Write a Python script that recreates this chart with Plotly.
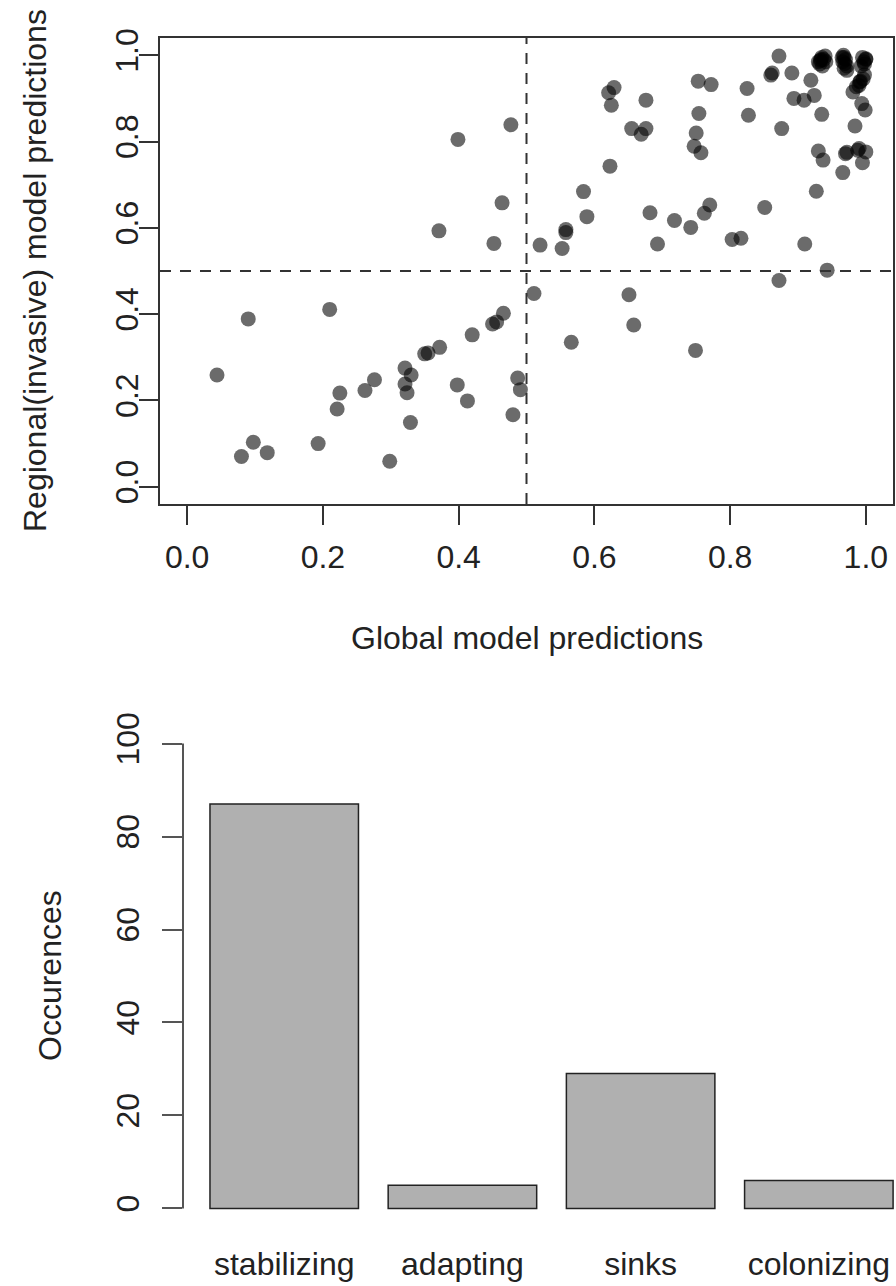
import plotly.graph_objects as go

# ---------------- data ----------------
global_pred = [
    # sinks (lower left)
    0.044, 0.090, 0.080, 0.0975, 0.118, 0.193, 0.210, 0.221, 0.225, 0.262,
    0.276, 0.2985, 0.321, 0.330, 0.321, 0.324, 0.329, 0.350, 0.355, 0.372,
    0.398, 0.413, 0.420, 0.450, 0.456, 0.466, 0.487, 0.491, 0.480,
    # adapting (upper left)
    0.371, 0.399, 0.452, 0.464, 0.477,
    # colonizing (lower right)
    0.511, 0.651, 0.658, 0.566, 0.749, 0.872,
    # stabilizing (upper right)
    0.520, 0.5525, 0.558, 0.558, 0.589, 0.584, 0.623, 0.629, 0.621, 0.625,
    0.676, 0.655, 0.669, 0.676, 0.682, 0.693, 0.718, 0.742, 0.762, 0.770,
    0.803, 0.816, 0.753, 0.772, 0.754, 0.750, 0.747, 0.757, 0.825, 0.827,
    0.851, 0.860, 0.862, 0.872, 0.891, 0.876, 0.894, 0.909, 0.924, 0.919,
    0.935, 0.910, 0.943, 0.927, 0.930, 0.937, 0.966, 0.970, 0.990, 1.000,
    0.995, 0.984, 0.994, 0.999, 0.991, 0.986, 0.981, 0.935, 0.932, 0.967,
    0.969, 0.972, 1.000, 0.998,
    0.938, 0.940, 0.933, 0.936, 0.941, 0.965, 0.970, 0.966, 0.972, 0.968,
    0.995, 0.997, 0.993, 1.000, 0.996, 0.990, 0.992, 0.972, 0.988, 0.934,
    0.968, 0.930, 0.998,
]
regional_pred = [
    0.259, 0.389, 0.070, 0.103, 0.079, 0.100, 0.411, 0.180, 0.217, 0.223,
    0.248, 0.059, 0.275, 0.259, 0.238, 0.218, 0.149, 0.308, 0.310, 0.323,
    0.236, 0.199, 0.352, 0.377, 0.382, 0.402, 0.252, 0.225, 0.167,
    0.593, 0.805, 0.564, 0.658, 0.839,
    0.448, 0.445, 0.375, 0.335, 0.316, 0.478,
    0.560, 0.552, 0.596, 0.589, 0.626, 0.684, 0.743, 0.925, 0.913, 0.884,
    0.896, 0.830, 0.817, 0.830, 0.635, 0.5625, 0.617, 0.601, 0.634, 0.653,
    0.573, 0.576, 0.940, 0.932, 0.865, 0.820, 0.789, 0.774, 0.923, 0.861,
    0.647, 0.954, 0.959, 0.998, 0.959, 0.830, 0.900, 0.896, 0.907, 0.942,
    0.863, 0.5625, 0.502, 0.685, 0.778, 0.757, 0.728, 0.772, 0.784, 0.776,
    0.751, 0.836, 0.888, 0.873, 0.938, 0.927, 0.915, 0.995, 0.980, 1.000,
    0.981, 0.965, 0.992, 0.980,
    0.990, 0.998, 0.988, 0.975, 0.985, 0.995, 0.990, 0.985, 0.975, 0.970,
    0.995, 0.985, 0.975, 0.990, 0.945, 0.930, 0.940, 0.775, 0.780, 0.990,
    0.995, 0.985, 0.955,
]

categories = ["stabilizing", "adapting", "sinks", "colonizing"]
occurrences = [87, 5, 29, 6]

x_ticks = [0.0, 0.2, 0.4, 0.6, 0.8, 1.0]
x_ticktext = ["0.0", "0.2", "0.4", "0.6", "0.8", "1.0"]
y_ticks = [0.0, 0.2, 0.4, 0.6, 0.8, 1.0]
y_ticktext = ["0.0", "0.2", "0.4", "0.6", "0.8", "1.0"]
bar_ticks = [0, 20, 40, 60, 80, 100]

# ---------------- layout helpers ----------------
W, H = 896, 1286
FONT = "Liberation Sans, Arial, Helvetica, sans-serif"
FS = 32

def px_x(p):
    return p / W

def px_y(p):
    return 1 - p / H

fig = go.Figure()

fig.add_trace(go.Scatter(
    x=global_pred, y=regional_pred, mode="markers",
    marker=dict(size=15, color="rgba(0,0,0,0.58)", line=dict(width=0)),
    xaxis="x", yaxis="y", showlegend=False, hoverinfo="skip",
))

fig.add_trace(go.Bar(
    x=categories, y=occurrences,
    marker=dict(color="#b0b0b0", line=dict(color="#222222", width=1.5)),
    xaxis="x2", yaxis="y2", showlegend=False, hoverinfo="skip",
))

dash_line = dict(color="#333333", width=2, dash="11px,9px")
shapes = [
    dict(type="line", xref="x", yref="y domain", x0=0.5, x1=0.5, y0=0, y1=1, line=dash_line),
    dict(type="line", xref="x domain", yref="y", x0=0, x1=1, y0=0.5, y1=0.5, line=dash_line),
    # y-axis line of the bar chart (spans 0..100 only)
    dict(type="line", xref="x2 domain", yref="y2", x0=0, x1=0, y0=0, y1=100,
         line=dict(color="#555555", width=2)),
]

annotations = [
    dict(text="Global model predictions", x=px_x(527), y=px_y(638), xref="paper", yref="paper",
         showarrow=False, xanchor="center", yanchor="middle", font=dict(size=FS, color="#222222")),
    dict(text="Regional(invasive) model predictions", x=px_x(35), y=px_y(271), xref="paper", yref="paper",
         showarrow=False, xanchor="center", yanchor="middle", textangle=-90,
         font=dict(size=FS, color="#222222")),
    dict(text="Occurences", x=px_x(50), y=px_y(976), xref="paper", yref="paper",
         showarrow=False, xanchor="center", yanchor="middle", textangle=-90,
         font=dict(size=FS, color="#222222")),
]

fig.update_layout(
    width=W, height=H,
    margin=dict(l=0, r=0, t=0, b=0, autoexpand=False),
    paper_bgcolor="white", plot_bgcolor="white",
    font=dict(family=FONT, size=FS, color="#222222"),
    bargap=1 - 1 / 1.2,
    shapes=shapes,
    annotations=annotations,
    xaxis=dict(
        domain=[px_x(160), px_x(893)], range=[-0.04, 1.04], anchor="y", automargin=False,
        tickvals=x_ticks, ticktext=x_ticktext,
        ticks="outside", ticklen=19, tickwidth=2, tickcolor="#333333",
        showline=True, linewidth=2, linecolor="#333333", mirror=True,
        showgrid=False, zeroline=False, ticklabelstandoff=5,
    ),
    yaxis=dict(
        domain=[px_y(504), px_y(38)], range=[-0.04, 1.04], anchor="x", automargin=False,
        tickvals=y_ticks, ticktext=y_ticktext, tickangle=-90,
        ticks="outside", ticklen=19, tickwidth=2, tickcolor="#333333",
        showline=True, linewidth=2, linecolor="#333333", mirror=True,
        showgrid=False, zeroline=False, ticklabelstandoff=-12,
    ),
    xaxis2=dict(
        domain=[px_x(183), 1.0], range=[-0.568, 3.433], anchor="y2", automargin=False,
        type="category", ticks="", showline=False, showgrid=False, zeroline=False,
        ticklabelstandoff=15,
    ),
    yaxis2=dict(
        domain=[px_y(1227), px_y(725)], range=[-4, 104], anchor="x2", automargin=False,
        tickvals=bar_ticks, tickangle=-90,
        ticks="outside", ticklen=20, tickwidth=2, tickcolor="#555555",
        showline=False, showgrid=False, zeroline=False, ticklabelstandoff=10,
    ),
)

fig.write_html("out.html")
